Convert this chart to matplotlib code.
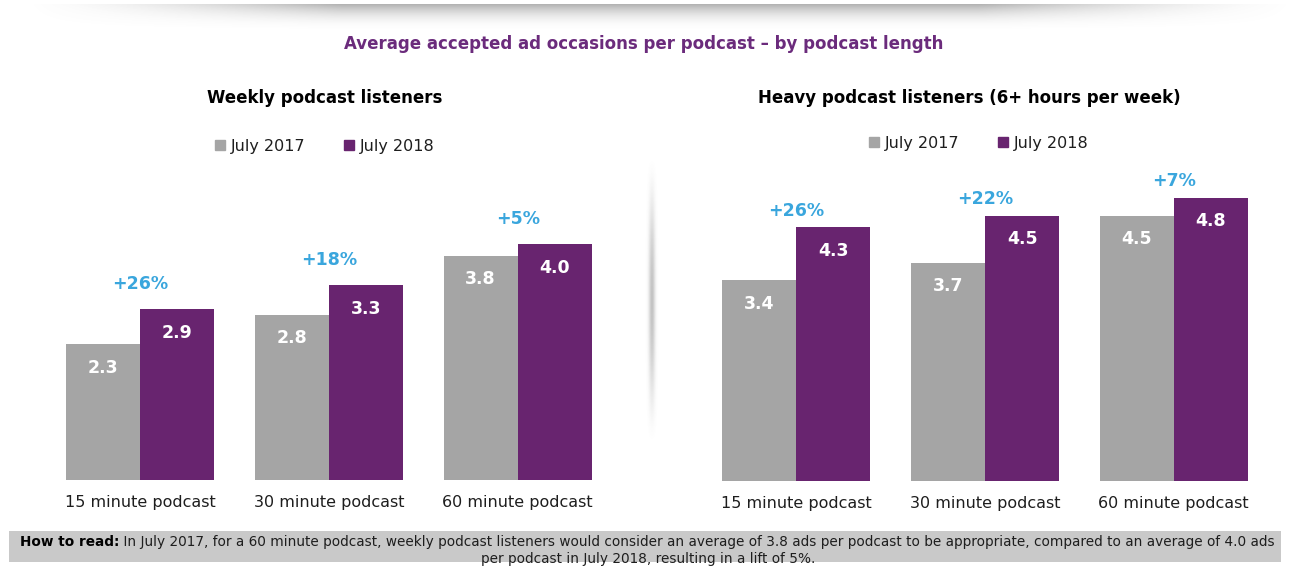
import numpy as np
import matplotlib
matplotlib.use("Agg")
import matplotlib.pyplot as plt
from matplotlib.lines import Line2D
from matplotlib.patches import Rectangle

# ---------------------------------------------------------
# Datos
# ---------------------------------------------------------
categories = ["15 minute podcast", "30 minute podcast", "60 minute podcast"]
series_names = ["July 2017", "July 2018"]

weekly_2017 = [2.3, 2.8, 3.8]
weekly_2018 = [2.9, 3.3, 4.0]
weekly_lift = ["+26%", "+18%", "+5%"]

heavy_2017 = [3.4, 3.7, 4.5]
heavy_2018 = [4.3, 4.5, 4.8]
heavy_lift = ["+26%", "+22%", "+7%"]

title = "Average accepted ad occasions per podcast \u2013 by podcast length"
panel_titles = ["Weekly podcast listeners", "Heavy podcast listeners (6+ hours per week)"]
note_bold = "How to read:"
note_line1 = (" In July 2017, for a 60 minute podcast, weekly podcast listeners would consider an average "
              "of 3.8 ads per podcast to be appropriate, compared to an average of 4.0 ads")
note_line2 = "per podcast in July 2018, resulting in a lift of 5%."

GRAY = "#a5a5a5"
PURPLE = "#68246f"
BLUE = "#3aa6dd"
TITLE_PURPLE = "#6b2b7c"
TXT = "#1e1e1e"

W, H = 1314, 574
fig = plt.figure(figsize=(W / 100, H / 100), dpi=100)
fig.patch.set_facecolor("white")

# ---------------------------------------------------------
# Capa de fondo en pixeles (sombras, recuadro de nota)
# ---------------------------------------------------------
bg = fig.add_axes([0, 0, 1, 1], zorder=-5)
bg.set_xlim(0, W)
bg.set_ylim(H, 0)
bg.axis("off")

# sombra superior
xs = np.linspace(0, 1, 400)
ys = np.linspace(0, 1, 60)
ax_fade = np.clip(np.minimum(xs / 0.25, (1 - xs) / 0.25), 0, 1) ** 1.5
ay_fade = (1 - ys) ** 2.2
alpha = np.outer(ay_fade, ax_fade) * 0.55
img = np.zeros((len(ys), len(xs), 4))
img[..., :3] = 0.45
img[..., 3] = alpha
bg.imshow(img, extent=(20, 1300, 32, 4), aspect="auto", interpolation="bilinear")

# sombra vertical (separador)
vx = np.linspace(-1, 1, 40)
vy = np.linspace(0, 1, 200)
hx = np.exp(-(vx / 0.4) ** 2)
hy = np.sin(np.pi * vy) ** 1.6
valpha = np.outer(hy, hx) * 0.4
vimg = np.zeros((len(vy), len(vx), 4))
vimg[..., :3] = 0.4
vimg[..., 3] = valpha
bg.imshow(vimg, extent=(644, 660, 445, 155), aspect="auto", interpolation="bilinear")

# recuadro "How to read"
box = Rectangle((9, 531), 1272, 31, facecolor="#c9c9c9", edgecolor="none")
bg.add_patch(box)
t_bold = bg.text(20, 542, note_bold, fontsize=9.8, fontweight="bold", color="black",
                 va="center", ha="left")
bg.annotate(note_line1, xy=(1, 0.5), xycoords=t_bold, va="center", ha="left",
            fontsize=9.8, color=TXT)
t2 = bg.text(648, 559, note_line2, fontsize=9.8, color=TXT, ha="center", va="center")
t2.set_clip_path(box)

# titulo general
fig.text(644 / W, 1 - 44 / H, title, ha="center", va="center", fontsize=12,
         fontweight="bold", color=TITLE_PURPLE)

# ---------------------------------------------------------
# Paneles
# ---------------------------------------------------------
bar_w = 0.393
panels = [
    (46, 480, weekly_2017, weekly_2018, weekly_lift, panel_titles[0], (325, 98), (325, 146), 18),
    (702, 481, heavy_2017, heavy_2018, heavy_lift, panel_titles[1], (969, 98), (979, 143), 12),
]

for left_px, base_px, v17, v18, lift, ptitle, tpos, lpos, lift_off in panels:
    ymax = 5.5
    ax = fig.add_axes([left_px / W, 1 - base_px / H, 566 / W, ymax * 59 / H])
    x = np.arange(len(categories))
    b1 = ax.bar(x - bar_w / 2, v17, bar_w, color=GRAY)
    b2 = ax.bar(x + bar_w / 2, v18, bar_w, color=PURPLE)
    ax.set_xlim(-0.5, len(categories) - 0.5)
    ax.set_ylim(0, ymax)
    for s in ax.spines.values():
        s.set_visible(False)
    ax.set_yticks([])
    ax.set_xticks(x)
    ax.set_xticklabels(categories, fontsize=11.5, color=TXT)
    ax.tick_params(axis="x", length=0, pad=11)
    ax.patch.set_alpha(0)

    for bars in (b1, b2):
        for rect in bars:
            h = rect.get_height()
            ax.annotate(f"{h:.1f}", xy=(rect.get_x() + rect.get_width() / 2, h),
                        xytext=(0, -17), textcoords="offset points",
                        ha="center", va="center", color="white",
                        fontsize=12.5, fontweight="bold")

    for i, lab in enumerate(lift):
        ax.annotate(lab, xy=(x[i], v18[i]), xytext=(0, lift_off),
                    textcoords="offset points", ha="center", va="center",
                    color=BLUE, fontsize=12.5, fontweight="bold", annotation_clip=False)

    fig.text(tpos[0] / W, 1 - tpos[1] / H, ptitle, ha="center", va="center",
             fontsize=12, fontweight="bold", color="black")

    handles = [Line2D([], [], marker="s", linestyle="none", markersize=7,
                      markerfacecolor=c, markeredgecolor=c) for c in (GRAY, PURPLE)]
    fig.legend(handles, series_names, loc="center",
               bbox_to_anchor=(lpos[0] / W, 1 - lpos[1] / H), ncol=2, frameon=False,
               fontsize=11.5, handlelength=0.6, handletextpad=0.4, columnspacing=2.4,
               labelcolor=TXT)

fig.savefig("out.png", dpi=100, facecolor="white")
